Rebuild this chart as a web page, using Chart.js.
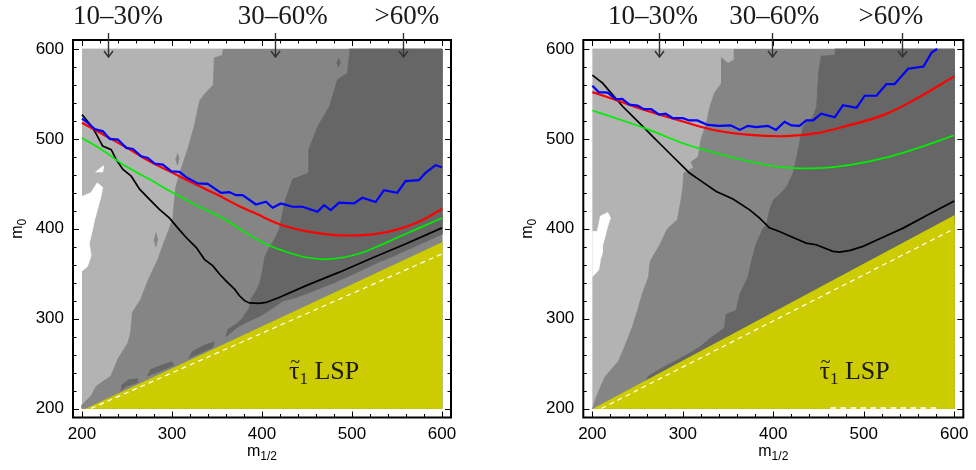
<!DOCTYPE html>
<html lang="es">
<head>
<meta charset="utf-8">
<title>Zonas en el plano m1/2 – m0</title>
<script src="https://cdn.jsdelivr.net/npm/chart.js@4.4.1/dist/chart.umd.min.js"></script>
<style>
  html, body { margin: 0; padding: 0; background: #ffffff; }
  .panel { position: absolute; top: 0; width: 488px; height: 470px; }
  #panel-izq { left: 0; }
  #panel-der { left: 488px; }
</style>
</head>
<body>
<div class="panel" id="panel-izq"><canvas id="grafica-izq"></canvas></div>
<div class="panel" id="panel-der"><canvas id="grafica-der"></canvas></div>

<script>
/* ===================================================
   ZONAS.JS — Dos paneles m1/2 vs m0 con contornos
   =================================================== */

/* ===== CONFIGURACIÓN GLOBAL DE CHART.JS ===== */

Chart.defaults.color       = "#000000";
Chart.defaults.font.family = "'Liberation Sans', Arial, sans-serif";

/* ===== CONSTANTES DE DATOS ===== */

const MARCAS_EJE      = [200, 300, 400, 500, 600];
const ETIQUETAS_ZONAS = ["10–30%", "30–60%", ">60%"];

// rectángulo completo del barrido (zona clara de fondo)
const ZONA_BASE = [[200, 200], [600, 200], [600, 600], [200, 600]];

/* --- panel izquierdo --- */

const IZQ_ZONA_MEDIA = [
  [357, 600], [356, 593], [347, 590], [346, 560], [338, 552], [331, 543], [327, 525],
  [325, 515], [318, 490], [308, 460], [304, 445], [301, 412], [297, 400], [290, 382],
  [284, 365], [274, 344], [265, 321], [256, 307], [254, 284], [251, 273], [240, 255],
  [232, 236], [216, 225], [210, 214], [203, 207], [200, 204], [200, 200], [600, 200], [600, 600],
];

const IZQ_ZONA_OSCURA = [
  [497, 600], [600, 600], [600, 394], [580, 385], [560, 376], [545, 369], [530, 363],
  [515, 356], [498, 348], [480, 340], [465, 334], [450, 328], [436, 323], [424, 320],
  [412, 312], [398, 303], [385, 297], [372, 290], [360, 280], [362, 288], [370, 293],
  [378, 300], [386, 312], [388, 322], [393, 330], [397, 338], [400, 350], [403, 368],
  [408, 379], [415, 390], [419, 399], [426, 432], [434, 455], [452, 462], [452, 488],
  [462, 514], [475, 536], [484, 566], [495, 573], [497, 592],
];

const IZQ_MOTAS_MEDIAS = [
  [[306, 484], [308, 478], [306, 471], [304, 478]],
  [[329, 518], [331, 514], [329, 510], [327, 514]],
  [[282, 396], [284, 388], [282, 380], [280, 388]],
];

const IZQ_MOTAS_OSCURAS = [
  [[485, 590], [487, 585], [485, 580], [483, 585]],
  [[243, 220], [250, 225], [262, 229], [262, 233], [252, 232], [244, 226]],
  [[272, 236], [285, 241], [302, 248], [300, 252], [288, 248], [276, 243]],
  [[318, 256], [330, 261], [345, 268], [347, 274], [335, 270], [322, 263]],
];

const IZQ_ZONAS_BLANCAS = [
  [[200, 436], [210, 440], [217, 451], [223, 446], [221, 436], [217, 421], [214, 410],
   [210, 392], [208, 384], [210, 370], [206, 358], [200, 353]],
  [[215, 463], [224, 470], [223, 463]],
];

const IZQ_LSP    = [[204.5, 200], [600, 200], [600, 385]];
const IZQ_LIMITE = [[210, 200], [600, 372]];

const IZQ_NEGRA = [
  [200, 527], [207.5, 518], [215, 507], [223, 492], [232.5, 488], [238, 477], [245.5, 466],
  [254.7, 458.5], [264, 444], [275, 432.6], [286, 421.5], [297, 412], [308, 399], [316, 390],
  [327, 379], [336, 366], [345.5, 358.7], [353, 349.4], [360, 342], [369.5, 332.8],
  [375, 325.4], [380.6, 320], [386, 317.5], [397, 317], [404.6, 318], [419, 323.5],
  [449, 336.7], [486, 351.7], [523, 367.7], [560, 383.3], [600, 401],
];

const IZQ_ROJA = [
  [200, 518], [225, 504], [250, 490], [275, 475], [301, 462], [325, 450], [350, 438],
  [375, 425], [395, 416], [412, 408], [425, 403], [450, 397], [475, 393.5], [497, 392.5],
  [525, 394], [550, 399], [575, 408], [600, 422],
];

const IZQ_VERDE = [
  [200, 501], [225, 486], [245.5, 471.4], [275, 455], [301, 440], [325, 427], [356, 412],
  [375, 400], [400, 385], [425, 375], [450, 368], [470, 366], [490, 368], [510, 373],
  [530, 381], [550, 390], [575, 401], [600, 412],
];

const IZQ_AZUL = [
  [200, 522.6], [206.7, 517.8], [214, 511], [223.3, 508.4], [230.7, 499.9], [239.9, 499.2],
  [249.2, 490], [256.6, 488.8], [265.8, 480.7], [273.2, 478.8], [280.6, 472.6], [289.8, 471.4],
  [299, 464], [308.3, 463.3], [315.7, 457.4], [328.6, 450.4], [339.7, 450], [354.5, 440],
  [363.7, 440.8], [371.1, 437.4], [378.5, 437.4], [393.3, 427], [404.4, 430], [411.8, 423.4],
  [421, 428.2], [434, 424.5], [445, 424.5], [461.7, 419], [469, 426.3], [476.4, 420.8],
  [485.6, 429], [502.3, 428.2], [511.5, 434.5], [526.3, 429.7], [535.5, 443], [550.3, 440],
  [559.5, 453], [574.3, 454], [581.7, 462.2], [592.8, 470.7], [600, 468.5],
];

/* --- panel derecho --- */

const DER_ZONA_MEDIA = [
  [357, 600], [357, 588], [350, 584], [343, 590], [343, 562], [335, 551], [330, 536],
  [326, 517], [320, 499], [317, 480], [309, 474], [312, 468], [301, 462], [300, 445],
  [298, 432], [294, 410], [283, 400], [275, 383], [264, 364], [262, 346], [255, 327],
  [250, 309], [244, 290], [237, 272], [229, 253], [214, 235], [209, 224], [203, 209],
  [201, 202], [200, 200], [600, 200], [600, 600],
];

const DER_ZONA_OSCURA = [
  [468, 600], [600, 600], [600, 405], [350, 275], [330, 264], [300, 248], [275, 236],
  [258, 228], [262, 236], [275, 244], [290, 252], [305, 260], [318, 268], [330, 278],
  [340, 285], [346, 290], [348, 305], [359, 309], [363, 327], [372, 346], [376, 364],
  [381, 383], [389, 401], [392, 403], [396, 421], [400, 432], [409, 440], [415, 447],
  [422, 462], [426, 480], [429, 495], [433, 514], [444, 525], [448, 536], [450, 573],
  [453, 592], [468, 593],
];

const DER_ZONAS_BLANCAS = [
  [[200, 397], [205.5, 397], [209, 414], [217, 418], [220, 412], [217, 403], [211, 380],
   [211, 373], [209, 366], [207, 354], [200, 347]],
];

const DER_LSP          = [[201, 200], [600, 200], [600, 415]];
const DER_LIMITE       = [[210, 200], [600, 400]];
const DER_BORDE_BLANCO = [[463, 200.6], [582, 200.6]];

const DER_NEGRA = [
  [200, 571], [211.4, 562], [222.5, 549], [233.6, 536], [244.6, 525], [255.7, 514],
  [266.8, 502.6], [277.8, 491.5], [288.9, 480.4], [300, 469.3], [307.4, 462], [318.4, 454.4],
  [337, 441.5], [355.4, 433], [373.9, 421], [384.6, 412], [395.7, 401], [406.8, 397],
  [420, 391], [436.3, 384], [447.4, 382.2], [465.9, 374.8], [473.3, 374.1], [485, 376],
  [499.2, 380.4], [520, 390], [543.5, 400.7], [570, 415], [600, 431],
];

const DER_ROJA = [
  [200, 552], [226, 543.3], [263, 530.4], [300, 519.3], [337, 509.3], [374, 504.4],
  [414, 503], [448, 506.3], [485, 515.6], [522, 526.7], [559, 545.2], [600, 569.5],
];

const DER_VERDE = [
  [200, 531.5], [226, 523], [263, 510], [300, 495.2], [337, 484.1], [374, 474.8],
  [411, 468.2], [448, 467.4], [485, 471.1], [522, 478.5], [559, 489.6], [600, 504],
];

const DER_AZUL = [
  [200, 559], [207, 552], [217, 551.5], [226, 544], [233, 544.5], [241, 538], [250, 537],
  [257, 533], [265, 533], [274, 527], [281, 528], [289, 523], [300, 523], [307, 520.5],
  [316, 520.5], [327.5, 515.5], [340, 514.5], [353, 515], [363, 510], [372, 514.5],
  [381, 513], [394, 514.5], [403, 510], [412.5, 519], [420, 515], [429, 514.5],
  [436.5, 520.5], [444, 520.5], [453, 528], [468, 524], [477, 537.5], [492, 534.5],
  [501, 548], [514, 548], [525, 561], [534, 561], [549, 578], [566, 580.5], [575, 596],
  [581, 600],
];

/* ===== COLORES ===== */

const GRIS_CLARO  = "#b3b3b3";
const GRIS_MEDIO  = "#858585";
const GRIS_OSCURO = "#666666";
const AMARILLO    = "#cccc00";

/* ===== CONSTRUCCIÓN DE DATASETS ===== */

function aPuntos(lista) {
  return lista.map(function(p) { return { x: p[0], y: p[1] }; });
}

function poligono(lista, color) {
  return {
    data:            aPuntos(lista),
    showLine:        true,
    fill:            "shape",
    backgroundColor: color,
    borderColor:     color,
    borderWidth:     0.8,
    pointRadius:     0,
    tension:         0,
  };
}

function curva(lista, color, grosor, extra) {
  return Object.assign({
    data:        aPuntos(lista),
    showLine:    true,
    fill:        false,
    borderColor: color,
    borderWidth: grosor,
    pointRadius: 0,
    tension:     0,
  }, extra || {});
}

/**
 * Ordena las capas: la primera de la lista queda al fondo.
 */
function apilar(capas) {
  capas.forEach(function(capa, i) { capa.order = capas.length - i; });
  return capas;
}

/* ===== PLUGIN: MARCO, MARCAS Y ROTULOS ===== */

/**
 * Escribe un texto por trozos (base, subíndice, tilde encima).
 */
function dibujarSegmentos(ctx, segmentos, x, y, familia, alineacion) {
  let total = 0;
  segmentos.forEach(function(s) {
    ctx.font = s.tam + "px " + familia;
    total += ctx.measureText(s.texto).width;
  });
  let cx = alineacion === "center" ? x - total / 2 : x;
  ctx.textBaseline = "alphabetic";
  segmentos.forEach(function(s) {
    ctx.font = s.tam + "px " + familia;
    const ancho = ctx.measureText(s.texto).width;
    ctx.textAlign = "left";
    ctx.fillText(s.texto, cx, y + (s.dy || 0));
    if (s.tilde) {
      // tilde pequeña sobre la letra
      ctx.font = Math.round(s.tam * 0.7) + "px " + familia;
      ctx.textAlign = "center";
      ctx.fillText("~", cx + ancho / 2 + 1, y - s.tam * 0.42);
    }
    cx += ancho;
  });
}

const SERIF = "'Liberation Serif', 'Times New Roman', 'DejaVu Serif', serif";
const SANS  = "'Liberation Sans', Arial, sans-serif";

const pluginMarco = {
  id: "marco",
  afterDraw(chart, args, opciones) {
    const { ctx, chartArea: a, scales: { x, y } } = chart;
    ctx.save();

    // marcas hacia dentro en los cuatro lados
    ctx.strokeStyle = "#000000";
    ctx.lineWidth   = 1;
    ctx.beginPath();
    for (let v = 200; v <= 600; v += 20) {
      const largo = v % 100 === 0 ? 6 : 3.5;
      const px = Math.round(x.getPixelForValue(v)) + 0.5;
      const py = Math.round(y.getPixelForValue(v)) + 0.5;
      ctx.moveTo(px, a.bottom); ctx.lineTo(px, a.bottom - largo);
      ctx.moveTo(px, a.top);    ctx.lineTo(px, a.top + largo);
      ctx.moveTo(a.left, py);   ctx.lineTo(a.left + largo, py);
      ctx.moveTo(a.right, py);  ctx.lineTo(a.right - largo, py);
    }
    ctx.stroke();

    ctx.lineWidth = 2;
    ctx.strokeRect(a.left, a.top, a.right - a.left, a.bottom - a.top);

    // títulos de los ejes con subíndice
    ctx.fillStyle = "#000000";
    dibujarSegmentos(ctx, [
      { texto: "m",   tam: 16 },
      { texto: "1/2", tam: 12, dy: 4 },
    ], (a.left + a.right) / 2, a.bottom + 38, SANS, "center");

    ctx.save();
    ctx.translate(a.left - 51, (a.top + a.bottom) / 2);
    ctx.rotate(-Math.PI / 2);
    dibujarSegmentos(ctx, [
      { texto: "m", tam: 16 },
      { texto: "0", tam: 12, dy: 4 },
    ], 0, 0, SANS, "center");
    ctx.restore();

    // rótulos de porcentaje con flechas
    ctx.fillStyle = "#1a1a1a";
    ctx.font = "27px " + SERIF;
    ctx.textAlign = "center";
    ctx.textBaseline = "alphabetic";
    opciones.etiquetas.forEach(function(xv, i) {
      ctx.fillText(ETIQUETAS_ZONAS[i], x.getPixelForValue(xv), a.top - 16);
    });

    ctx.strokeStyle = "#333333";
    ctx.lineWidth   = 1.4;
    opciones.flechas.forEach(function(xv) {
      const px = Math.round(x.getPixelForValue(xv)) + 0.5;
      const punta = a.top + 17;
      ctx.beginPath();
      ctx.moveTo(px, a.top - 7);
      ctx.lineTo(px, punta);
      ctx.moveTo(px - 4.5, punta - 6);
      ctx.lineTo(px, punta);
      ctx.lineTo(px + 4.5, punta - 6);
      ctx.stroke();
    });

    // rótulo de la región con stau LSP
    ctx.fillStyle = "#1a1a1a";
    dibujarSegmentos(ctx, [
      { texto: "τ",    tam: 26, tilde: true },
      { texto: "1",    tam: 17, dy: 5 },
      { texto: " LSP", tam: 26 },
    ], x.getPixelForValue(opciones.lsp[0]), y.getPixelForValue(opciones.lsp[1]), SERIF, "left");

    ctx.restore();
  },
};

/* ===== OPCIONES DE EJES ===== */

function opcionesEje(esX, tamEje) {
  return {
    type: "linear",
    min:  190,
    max:  610,
    grid:   { display: false, drawTicks: false },
    border: { display: false },
    ticks:  {
      color:       "#000000",
      font:        { size: 17 },
      padding:     esX ? 7 : 9,
      maxRotation: 0,
      autoSkip:    false,
    },
    afterBuildTicks: function(eje) {
      eje.ticks = MARCAS_EJE.map(function(v) { return { value: v }; });
    },
    afterFit: function(eje) {
      if (esX) eje.height = tamEje; else eje.width = tamEje;
    },
  };
}

/* ===== INICIALIZACIÓN DE CADA PANEL ===== */

function crearPanel(idLienzo, capas, margenDerecho, anchoEjeY, anotaciones) {
  const lienzo = document.getElementById(idLienzo);
  if (!lienzo) return;

  new Chart(lienzo, {
    type: "scatter",
    data: { datasets: apilar(capas) },
    options: {
      responsive:          true,
      maintainAspectRatio: false,
      animation:           false,
      events:              [],
      layout: { padding: { top: 40, right: margenDerecho, left: 0, bottom: 0 } },
      plugins: {
        legend:  { display: false },
        tooltip: { enabled: false },
        marco:   anotaciones,
      },
      scales: {
        x: opcionesEje(true, 52.5),
        y: opcionesEje(false, anchoEjeY),
      },
    },
    plugins: [pluginMarco],
  });
}

function inicializarPanelIzquierdo() {
  const capas = [poligono(ZONA_BASE, GRIS_CLARO), poligono(IZQ_ZONA_MEDIA, GRIS_MEDIO)];
  IZQ_MOTAS_MEDIAS.forEach(function(m) { capas.push(poligono(m, GRIS_MEDIO)); });
  capas.push(poligono(IZQ_ZONA_OSCURA, GRIS_OSCURO));
  IZQ_MOTAS_OSCURAS.forEach(function(m) { capas.push(poligono(m, GRIS_OSCURO)); });
  IZQ_ZONAS_BLANCAS.forEach(function(m) { capas.push(poligono(m, "#ffffff")); });
  capas.push(poligono(IZQ_LSP, AMARILLO));
  capas.push(curva(IZQ_LIMITE, "#ffffff", 1.2, { borderDash: [5, 4] }));
  capas.push(curva(IZQ_NEGRA, "#000000", 1.7));
  capas.push(curva(IZQ_VERDE, "#00ee00", 1.7, { tension: 0.4 }));
  capas.push(curva(IZQ_ROJA,  "#ff0000", 2.2, { tension: 0.4 }));
  capas.push(curva(IZQ_AZUL,  "#0000ff", 2.2));

  crearPanel("grafica-izq", capas, 37, 73, {
    etiquetas: [240, 423, 561],
    flechas:   [229, 414, 557],
    lsp:       [430, 233],
  });
}

function inicializarPanelDerecho() {
  const capas = [poligono(ZONA_BASE, GRIS_CLARO), poligono(DER_ZONA_MEDIA, GRIS_MEDIO)];
  capas.push(poligono(DER_ZONA_OSCURA, GRIS_OSCURO));
  DER_ZONAS_BLANCAS.forEach(function(m) { capas.push(poligono(m, "#ffffff")); });
  capas.push(poligono(DER_LSP, AMARILLO));
  capas.push(curva(DER_LIMITE, "#ffffff", 1.2, { borderDash: [5, 4] }));
  capas.push(curva(DER_BORDE_BLANCO, "#ffffff", 1.6, { borderDash: [6, 4] }));
  capas.push(curva(DER_NEGRA, "#000000", 1.7));
  capas.push(curva(DER_VERDE, "#00ee00", 1.7, { tension: 0.4 }));
  capas.push(curva(DER_ROJA,  "#ff0000", 2.2, { tension: 0.4 }));
  capas.push(curva(DER_AZUL,  "#0000ff", 2.2));

  crearPanel("grafica-der", capas, 12.7, 95.3, {
    etiquetas: [267, 401, 530],
    flechas:   [274, 399, 542],
    lsp:       [451, 233],
  });
}

/* ===== INICIALIZACIÓN ===== */

function inicializar() {
  inicializarPanelIzquierdo();
  inicializarPanelDerecho();
}

document.addEventListener("DOMContentLoaded", inicializar);
</script>
</body>
</html>
